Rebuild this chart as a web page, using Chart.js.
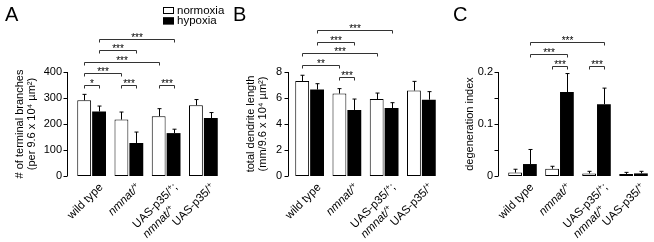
<!DOCTYPE html>
<html>
<head>
<meta charset="utf-8">
<script src="https://cdn.jsdelivr.net/npm/chart.js@4.4.1/dist/chart.umd.min.js"></script>
<style>
  body { margin: 0; background: #fff; }
  #wrap { position: relative; width: 654px; height: 242px; }
  canvas { position: absolute; top: 0; }
</style>
</head>
<body>
<div id="wrap">
  <canvas id="chartA" width="232" height="242" style="left:0"></canvas>
  <canvas id="chartB" width="212" height="242" style="left:232px"></canvas>
  <canvas id="chartC" width="210" height="242" style="left:444px"></canvas>
</div>
<script>
// data
const genotypes = ['wild type', 'nmnat/+', ['UAS-p35/+;', 'nmnat/+'], 'UAS-p35/+'];
const seriesNames = ['normoxia', 'hypoxia'];

// A: terminal branches
const branchNormoxia = [291, 217, 230, 272];
const branchHypoxia = [248, 127, 165, 223];
const branchNormoxiaErr = [23, 29, 29, 22];
const branchHypoxiaErr = [21, 42, 15, 21];
const branchTicks = [0, 100, 200, 300, 400];

// B: total dendrite length
const lengthNormoxia = [7.31, 6.34, 5.92, 6.57];
const lengthHypoxia = [6.65, 5.08, 5.23, 5.87];
const lengthNormoxiaErr = [0.44, 0.38, 0.46, 0.71];
const lengthHypoxiaErr = [0.45, 0.84, 0.41, 0.62];
const lengthTicks = [0, 2, 4, 6, 8];

// C: degeneration index
const degenNormoxia = [0.0065, 0.014, 0.005, 0.004];
const degenHypoxia = [0.023, 0.1615, 0.138, 0.005];
const degenNormoxiaErr = [0.0065, 0.0047, 0.004, 0.003];
const degenHypoxiaErr = [0.028, 0.0355, 0.031, 0.004];
const degenTicks = [0, 0.05, 0.1, 0.15, 0.2];

// significance brackets: [group1, series1, group2, series2, level, label]
const branchSig = [
  [0, 0, 0, 1, 0, '*'], [1, 0, 1, 1, 0, '***'], [2, 0, 2, 1, 0, '***'],
  [0, 0, 1, 0, 1, '***'], [0, 0, 2, 0, 2, '***'],
  [0, 1, 1, 1, 3, '***'], [0, 1, 2, 1, 4, '***']
];
const lengthSig = [
  [1, 0, 1, 1, 0, '***'], [0, 0, 1, 0, 1, '**'], [0, 0, 2, 0, 2, '***'],
  [0, 1, 1, 1, 3, '***'], [0, 1, 2, 1, 4, '***']
];
const degenSig = [
  [1, 0, 1, 1, 0, '***'], [2, 0, 2, 1, 0, '***'],
  [0, 1, 1, 1, 1, '***'], [0, 1, 2, 1, 2, '***']
];

const FONT = '"Liberation Sans", Arial, sans-serif';

function fontFor(size, italic) {
  return (italic ? 'italic ' : '') + size + 'px ' + FONT;
}
function segs(text) {
  return text.split(/(\+)/).filter(s => s);
}
function measureRich(ctx, text, size, italic) {
  let w = 0;
  segs(text).forEach(s => {
    ctx.font = fontFor(s === '+' ? size * 0.7 : size, italic);
    w += ctx.measureText(s).width;
  });
  return w;
}
function drawRich(ctx, text, x, y, size, italic) {
  segs(text).forEach(s => {
    const sup = s === '+';
    ctx.font = fontFor(sup ? size * 0.7 : size, italic);
    ctx.fillText(s, x, sup ? y - size * 0.33 : y);
    x += ctx.measureText(s).width;
  });
}
const isItalic = line => /^nmnat/.test(line);

const panelPlugin = {
  id: 'panel',
  afterDraw(chart, args, opts) {
    const ctx = chart.ctx;
    const area = chart.chartArea;
    const ys = chart.scales.y, xs = chart.scales.x;
    ctx.save();
    ctx.strokeStyle = '#000';
    ctx.fillStyle = '#000';
    ctx.lineWidth = 1;

    // y axis with outward ticks
    const ax = Math.round(area.left - opts.axisGap) + 0.5;
    ctx.beginPath();
    ctx.moveTo(ax, ys.getPixelForValue(ys.min));
    ctx.lineTo(ax, ys.getPixelForValue(ys.max));
    ys.ticks.forEach(t => {
      const py = Math.round(ys.getPixelForValue(t.value)) + 0.5;
      ctx.moveTo(ax - 4, py);
      ctx.lineTo(ax, py);
    });
    ctx.stroke();

    // error bars (upper)
    chart.data.datasets.forEach((ds, di) => {
      chart.getDatasetMeta(di).data.forEach((bar, i) => {
        const top = ys.getPixelForValue(ds.data[i] + ds.errors[i]);
        const bx = Math.round(bar.x) + 0.5;
        ctx.beginPath();
        ctx.moveTo(bx, bar.y);
        ctx.lineTo(bx, top);
        ctx.moveTo(bx - 2, top);
        ctx.lineTo(bx + 2, top);
        ctx.stroke();
      });
    });

    // significance brackets
    ctx.strokeStyle = '#333';
    opts.brackets.forEach(b => {
      const [g1, s1, g2, s2, level, label] = b;
      const x1 = Math.round(chart.getDatasetMeta(s1).data[g1].x) + 0.5;
      const x2 = Math.round(chart.getDatasetMeta(s2).data[g2].x) + 0.5;
      const by = Math.round(area.top + opts.bracketBase - level * opts.bracketStep) + 0.5;
      ctx.beginPath();
      ctx.moveTo(x1, by + 3);
      ctx.lineTo(x1, by);
      ctx.lineTo(x2, by);
      ctx.lineTo(x2, by + 3);
      ctx.stroke();
      ctx.font = fontFor(10, false);
      ctx.textAlign = 'center';
      ctx.textBaseline = 'alphabetic';
      ctx.fillText(label, (x1 + x2) / 2, by + 1.5);
    });

    // rotated category labels
    ctx.textAlign = 'left';
    ctx.textBaseline = 'alphabetic';
    chart.data.labels.forEach((lab, i) => {
      const lines = Array.isArray(lab) ? lab : [lab];
      const cx = xs.getPixelForTick(i);
      ctx.save();
      ctx.translate(cx + opts.labelDx, area.bottom + opts.labelDy);
      ctx.rotate(-Math.PI / 4);
      const w0 = measureRich(ctx, lines[0], 11.5, isItalic(lines[0]));
      lines.forEach((ln, k) => drawRich(ctx, ln, -w0, 4 + k * 14, 11.5, isItalic(ln)));
      ctx.restore();
    });

    // legend
    if (opts.legend) {
      const lx = opts.legend.x;
      chart.data.datasets.forEach((ds, i) => {
        const ly = opts.legend.y + i * 10.4;
        ctx.fillStyle = ds.backgroundColor;
        ctx.fillRect(lx, ly, 11, 7);
        ctx.strokeStyle = '#000';
        ctx.strokeRect(lx + 0.5, ly + 0.5, 10, 6);
        ctx.fillStyle = '#000';
        ctx.font = fontFor(11.5, false);
        ctx.textBaseline = 'middle';
        ctx.fillText(ds.label, lx + 14, ly + 3.5);
      });
    }

    // panel letter
    ctx.fillStyle = '#000';
    ctx.font = fontFor(20, false);
    ctx.textBaseline = 'alphabetic';
    ctx.fillText(opts.letter, opts.letterX, 21);
    ctx.restore();
  }
};

function makeChart(id, normal, hypo, normalErr, hypoErr, ticks, y, panel) {
  return new Chart(document.getElementById(id), {
    type: 'bar',
    data: {
      labels: genotypes,
      datasets: [
        { label: seriesNames[0], data: normal, errors: normalErr, backgroundColor: '#fff',
          borderColor: '#000', borderWidth: 1, borderSkipped: false },
        { label: seriesNames[1], data: hypo, errors: hypoErr, backgroundColor: '#000',
          borderColor: '#000', borderWidth: 0 }
      ]
    },
    options: {
      responsive: false,
      animation: false,
      layout: { padding: { top: 72, right: y.padRight, bottom: 0, left: 0 } },
      datasets: { bar: { categoryPercentage: 0.8, barPercentage: 0.93 } },
      plugins: { legend: { display: false }, tooltip: { enabled: false }, panel: panel },
      scales: {
        x: {
          grid: { display: false, drawTicks: false },
          border: { display: false },
          ticks: { display: false },
          afterFit: s => { s.height = 66; }
        },
        y: {
          min: ticks[0],
          max: ticks[ticks.length - 1],
          grid: { display: false, drawTicks: false },
          border: { display: false },
          afterBuildTicks: s => { s.ticks = ticks.map(v => ({ value: v })); },
          ticks: {
            padding: y.tickPad,
            color: '#000',
            font: { family: FONT, size: 11 },
            callback: y.format
          },
          title: {
            display: true,
            text: y.title,
            color: '#000',
            font: { family: FONT, size: 11, lineHeight: 1.1 },
            padding: { top: y.titlePad, bottom: 0 }
          },
          afterFit: s => { s.width = y.width; }
        }
      }
    },
    plugins: [panelPlugin]
  });
}

makeChart('chartA', branchNormoxia, branchHypoxia, branchNormoxiaErr, branchHypoxiaErr, branchTicks,
  { title: ['# of terminal branches', '(per 9.6 x 10\u2074 \u00b5m\u00b2)'], width: 73, padRight: 10,
    tickPad: 11, titlePad: 14, format: v => String(v) },
  { letter: 'A', letterX: 5, axisGap: 6, brackets: branchSig, bracketBase: 13, bracketStep: 11.6,
    labelDx: 9, labelDy: 9, legend: { x: 163, y: 7 } });

makeChart('chartB', lengthNormoxia, lengthHypoxia, lengthNormoxiaErr, lengthHypoxiaErr, lengthTicks,
  { title: ['total dendrite length', '(mm/9.6 x 10\u2074 \u00b5m\u00b2)'], width: 59, padRight: 4,
    tickPad: 9, titlePad: 13, format: v => String(v) },
  { letter: 'B', letterX: 1, axisGap: 3, brackets: lengthSig, bracketBase: 4.5, bracketStep: 11.6,
    labelDx: 9, labelDy: 9, legend: null });

makeChart('chartC', degenNormoxia, degenHypoxia, degenNormoxiaErr, degenHypoxiaErr, degenTicks,
  { title: 'degeneration index', width: 60, padRight: 2,
    tickPad: 11, titlePad: 20,
    format: v => (v === 0 ? '0' : (Math.abs(v * 10 - Math.round(v * 10)) < 1e-9 ? v.toFixed(1) : '')) },
  { letter: 'C', letterX: 9, axisGap: 6, brackets: degenSig, bracketBase: -6.5, bracketStep: 12,
    labelDx: 9, labelDy: 9, legend: null });
</script>
</body>
</html>
